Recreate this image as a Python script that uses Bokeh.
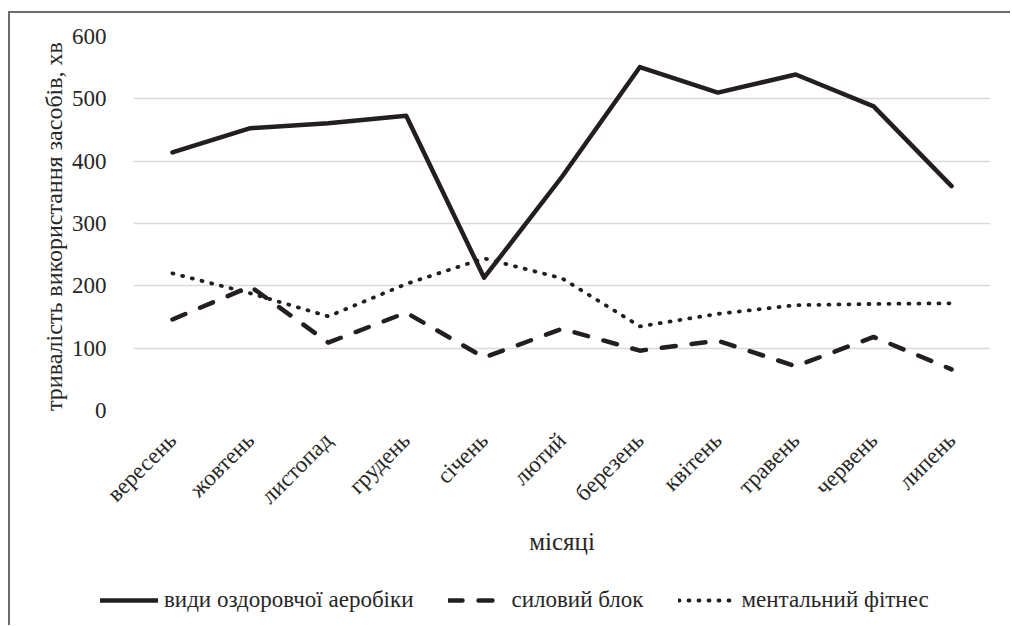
import math
from bokeh.plotting import figure
from bokeh.layouts import column
from bokeh.models import FactorRange, Range1d, FixedTicker, Legend, LegendItem
from bokeh.embed import file_html
from bokeh.resources import INLINE

months = ["вересень", "жовтень", "листопад", "грудень", "січень", "лютий",
          "березень", "квітень", "травень", "червень", "липень"]
aerobics = [414, 453, 461, 473, 213, 375, 551, 510, 539, 488, 360]
strength = [146, 199, 109, 157, 85, 131, 96, 112, 71, 118, 66]
mental = [220, 188, 151, 203, 244, 212, 135, 155, 169, 171, 172]
y_ticks = [0, 100, 200, 300, 400, 500, 600]
series_names = ["види оздоровчої аеробіки", "силовий блок", "ментальний фітнес"]

FONT = "Liberation Serif"
TXT = "#262626"
LINE = "#231f20"

styles = [
    dict(line_width=4.5, line_join="round", line_cap="round"),
    dict(line_width=4.5, line_dash="14 16", line_join="round", line_cap="round"),
    dict(line_width=3.8, line_dash="1 9", line_join="round", line_cap="round"),
]
series = [aerobics, strength, mental]

# ---- main chart ----
p = figure(width=1000, height=567, x_range=FactorRange(*months),
           y_range=Range1d(0, 600), output_backend="svg", toolbar_location=None,
           min_border_left=123, min_border_top=23, min_border_right=20,
           min_border_bottom=170)
p.outline_line_color = None
for vals, st in zip(series, styles):
    p.line(months, vals, line_color=LINE, **st)

p.xgrid.grid_line_color = None
p.ygrid.grid_line_color = "#d9d9d9"
p.ygrid.grid_line_width = 1.5

p.yaxis.ticker = FixedTicker(ticks=y_ticks)
p.yaxis.axis_line_color = None
p.yaxis.major_tick_line_color = None
p.yaxis.minor_tick_line_color = None
p.yaxis.major_label_standoff = 21
p.yaxis.major_label_text_font = FONT
p.yaxis.major_label_text_font_size = "23px"
p.yaxis.major_label_text_color = TXT
p.yaxis.axis_label = "тривалість  використання засобів, хв"
p.yaxis.axis_label_text_font = FONT
p.yaxis.axis_label_text_font_size = "24px"
p.yaxis.axis_label_text_font_style = "normal"
p.yaxis.axis_label_text_color = TXT
p.yaxis.axis_label_standoff = 2

p.xaxis.axis_line_color = None
p.xaxis.major_tick_line_color = None
p.xaxis.minor_tick_line_color = None
p.xaxis.major_label_orientation = math.pi / 4
p.xaxis.major_label_standoff = 20
p.xaxis.major_label_text_font = FONT
p.xaxis.major_label_text_font_size = "23px"
p.xaxis.major_label_text_color = TXT
p.xaxis.axis_label = "місяці"
p.xaxis.axis_label_text_font = FONT
p.xaxis.axis_label_text_font_size = "25px"
p.xaxis.axis_label_text_font_style = "normal"
p.xaxis.axis_label_text_color = TXT
p.xaxis.axis_label_standoff = 8

# ---- legend strip ----
lg = figure(width=1000, height=45, x_range=FactorRange(*months),
            y_range=Range1d(1000, 1100), output_backend="svg", toolbar_location=None,
            x_axis_location=None, y_axis_location=None,
            min_border_left=0, min_border_right=0, min_border_top=0, min_border_bottom=0)
lg.outline_line_color = None
lg.grid.grid_line_color = None
lg.background_fill_alpha = 0
lg.border_fill_alpha = 0
lg.styles = {"transform": "translateX(-45px)"}
rs = [lg.line(months, vals, line_color=LINE, **st) for vals, st in zip(series, styles)]

legend = Legend(items=[LegendItem(label=n, renderers=[r]) for n, r in zip(series_names, rs)],
                orientation="horizontal", location=(12, 12),
                border_line_color=None, background_fill_alpha=0,
                padding=0, margin=0, spacing=34, glyph_width=58, glyph_height=24,
                label_standoff=6, label_text_font=FONT, label_text_font_size="23px",
                label_text_color=TXT)
lg.add_layout(legend, "center")

layout = column(p, lg, spacing=0)
layout.styles = {"margin-top": "11px", "margin-left": "8px",
                 "border-top": "2px solid #6b6b6b", "border-left": "2px solid #6b6b6b"}

open("out.html", "w").write(file_html(layout, INLINE))
